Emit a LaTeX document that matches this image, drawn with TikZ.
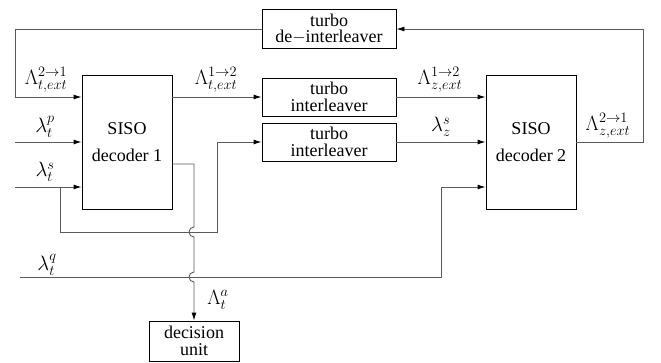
\documentclass[tikz,border=0pt]{standalone}
\usepackage{amsmath}
\usepackage{fontspec}
\setmainfont{Liberation Serif}
\usetikzlibrary{arrows.meta,positioning,calc}
\definecolor{wiregray}{HTML}{5A5A5A}

\begin{document}
\begin{tikzpicture}[x=1pt,y=1pt,
    blockbox/.style={draw=black,line width=0.9pt,align=center,inner sep=0pt,
      font=\fontsize{18}{16.7}\selectfont},
    lbl/.style={inner sep=1pt,font=\fontsize{20.74}{24}\selectfont},
    wire/.style={wiregray,line width=0.9pt},
    sigarrow/.style={wire,-{Latex[length=8pt,width=5pt,black]}}]
  \useasboundingbox (0,0) rectangle (661,362);
  % blocks
  \node[blockbox,minimum width=90pt,minimum height=134pt]
       (dec1) at (127,220) {SISO\\[10pt]decoder 1};
  \node[blockbox,minimum width=90pt,minimum height=134pt]
       (dec2) at (531,220) {SISO\\[10pt]decoder 2};
  \node[blockbox,minimum width=134pt,minimum height=39pt]
       (deint) at (329,333) {turbo\\de$-$interleaver};
  \node[blockbox,minimum width=134pt,minimum height=38pt]
       (intl1) at (329,265) {turbo\\interleaver};
  \node[blockbox,minimum width=134pt,minimum height=38pt]
       (intl2) at (329,220) {turbo\\interleaver};
  \node[blockbox,minimum width=90pt,minimum height=40pt]
       (decunit) at (194,21) {decision\\unit};
  % free ends and corners
  \coordinate (fbR) at (643,333);
  \coordinate (fbL) at (15,265);
  \coordinate (inP) at (15,220);
  \coordinate (inS) at (15,175);
  \coordinate (brS) at (60,175);
  \coordinate (loopR) at (217,130);
  \coordinate (inQ) at (20,85);
  \coordinate (qUp) at (441,175);
  \coordinate (outA) at (194,198);
  \coordinate (hopA) at (194,135);
  \coordinate (hopB) at (194,90);
  % extrinsic loop
  \draw[sigarrow] (dec2.east) -| (fbR) -- (deint.east);
  \draw[sigarrow] (deint.west) -| (fbL) -- (dec1.west |- fbL);
  \draw[sigarrow] (dec1.east |- intl1) -- (intl1.west);
  \draw[sigarrow] (intl1.east) -- (dec2.west |- intl1);
  % channel inputs
  \draw[sigarrow] (inP) -- (dec1.west);
  \draw[sigarrow] (inS) -- (dec1.west |- inS);
  \draw[sigarrow] (brS) |- (loopR) |- (intl2.west);
  \draw[sigarrow] (intl2.east) -- (dec2.west);
  \draw[sigarrow] (inQ) -| (qUp) -- (dec2.west |- qUp);
  % a posteriori output, hopping over the crossings
  \draw[sigarrow] (dec1.east |- outA) -- (outA) -- (hopA)
       arc[start angle=90,end angle=270,radius=5pt] -- (hopB)
       arc[start angle=90,end angle=270,radius=5pt] -- (decunit.north);
  % labels
  \node[lbl] (lFbT) at (46,282) {$\Lambda_{t,ext}^{2\rightarrow1}$};
  \node[lbl] (lOutT) at (216,282) {$\Lambda_{t,ext}^{1\rightarrow2}$};
  \node[lbl] (lInZ) at (440,282) {$\Lambda_{z,ext}^{1\rightarrow2}$};
  \node[lbl] (lSz) at (441,235) {$\lambda_z^{s}$};
  \node[lbl] (lFbZ) at (608,236) {$\Lambda_{z,ext}^{2\rightarrow1}$};
  \node[lbl] (lP) at (45,235) {$\lambda_t^{p}$};
  \node[lbl] (lS) at (45,190) {$\lambda_t^{s}$};
  \node[lbl] (lQ) at (47,97) {$\lambda_t^{q}$};
  \node[lbl] (lA) at (218,62) {$\Lambda_t^{a}$};
\end{tikzpicture}
\end{document}
